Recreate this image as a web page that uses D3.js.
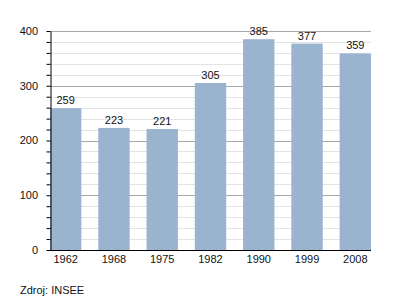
<!DOCTYPE html>
<html>
<head>
<meta charset="utf-8">
<script src="https://cdn.jsdelivr.net/npm/d3@7"></script>
<style>
	body { margin: 0; background: #fff; }
	text { font-family: "Liberation Sans", Arial, sans-serif; fill: #111; }
</style>
</head>
<body>
<svg id="chart" width="400" height="300"></svg>
<script>
const years = ["1962", "1968", "1975", "1982", "1990", "1999", "2008"];
const population = [259, 223, 221, 305, 385, 377, 359];
const yTicks = [0, 100, 200, 300, 400];
const source = "Zdroj: INSEE";

const svg = d3.select("#chart");
const plotLeft = 50, plotRight = 371, plotTop = 31, plotBottom = 250;

const x = d3.scaleBand()
	.domain(years)
	.range([plotLeft, plotRight])
	.paddingInner(0.35)
	.paddingOuter(0);

const y = d3.scaleLinear()
	.domain([0, 400])
	.range([plotBottom, plotTop]);

// minor grid every 20
svg.append("g")
	.selectAll("line")
	.data(d3.range(20, 400, 20).filter((d) => d % 100 !== 0))
	.enter().append("line")
	.attr("x1", plotLeft).attr("x2", plotRight)
	.attr("y1", (d) => Math.round(y(d)) + 0.5).attr("y2", (d) => Math.round(y(d)) + 0.5)
	.attr("stroke", "#e3e3e3");

// major grid
svg.append("g")
	.selectAll("line")
	.data(yTicks.slice(1))
	.enter().append("line")
	.attr("x1", plotLeft).attr("x2", plotRight)
	.attr("y1", (d) => Math.round(y(d)) + 0.5).attr("y2", (d) => Math.round(y(d)) + 0.5)
	.attr("stroke", "#a8a8a8");

// bars
svg.append("g")
	.selectAll("rect")
	.data(population)
	.enter().append("rect")
	.attr("x", (d, i) => x(years[i]))
	.attr("y", (d) => y(d))
	.attr("width", x.bandwidth())
	.attr("height", (d) => plotBottom - y(d))
	.attr("fill", "#9ab3cf");

// value labels
svg.append("g")
	.selectAll("text")
	.data(population)
	.enter().append("text")
	.attr("x", (d, i) => x(years[i]) + x.bandwidth() / 2)
	.attr("y", (d) => y(d) - 4)
	.attr("text-anchor", "middle")
	.attr("font-size", 11)
	.text((d) => d);

// y axis with minor ticks
svg.append("g")
	.attr("transform", "translate(" + (plotLeft + 0.5) + ",0)")
	.call(d3.axisLeft(y).tickValues(d3.range(0, 401, 20)).tickSize(4).tickSizeOuter(0).tickFormat(""))
	.call((g) => g.select(".domain").attr("stroke", "#000"))
	.call((g) => g.selectAll(".tick line").attr("stroke", "#000"));

svg.append("g")
	.selectAll("text")
	.data(yTicks)
	.enter().append("text")
	.attr("x", 38)
	.attr("y", (d) => y(d))
	.attr("dy", "0.35em")
	.attr("text-anchor", "end")
	.attr("font-size", 11)
	.text((d) => d);

// x axis
svg.append("line")
	.attr("x1", plotLeft).attr("x2", plotRight)
	.attr("y1", plotBottom + 0.5).attr("y2", plotBottom + 0.5)
	.attr("stroke", "#000");

svg.append("g")
	.selectAll("text")
	.data(years)
	.enter().append("text")
	.attr("x", (d) => x(d) + x.bandwidth() / 2)
	.attr("y", 263)
	.attr("text-anchor", "middle")
	.attr("font-size", 11)
	.text((d) => d);

svg.append("text")
	.attr("x", 20)
	.attr("y", 294)
	.attr("font-size", 11)
	.text(source);
</script>
</body>
</html>
